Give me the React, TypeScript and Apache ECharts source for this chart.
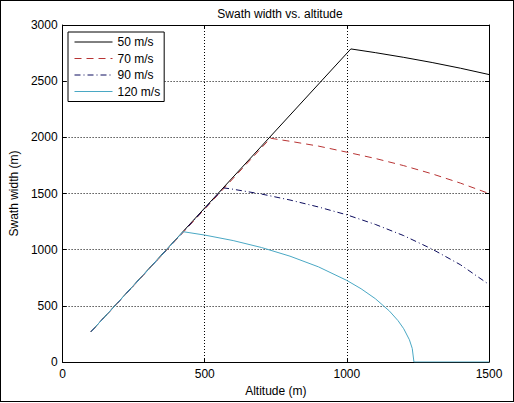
import { useEffect, useRef } from 'react';
import * as echarts from 'echarts';

const seriesNames = ['50 m/s', '70 m/s', '90 m/s', '120 m/s'];

const speed50: [number, number][] = [
  [100, 270], [1014, 2787], [1100, 2754], [1200, 2712], [1300, 2666], [1400, 2615], [1500, 2559],
];
const speed70: [number, number][] = [
  [100, 270], [731, 1992], [800, 1965], [900, 1922], [1000, 1868], [1100, 1812], [1200, 1748],
  [1300, 1675], [1400, 1592], [1500, 1500],
];
const speed90: [number, number][] = [
  [100, 270], [567, 1550], [600, 1538], [700, 1495], [800, 1442], [900, 1380], [1000, 1310],
  [1100, 1225], [1200, 1125], [1300, 1005], [1400, 865], [1500, 690],
];
const speed120: [number, number][] = [
  [100, 270], [424, 1160], [500, 1130], [600, 1081], [700, 1019], [800, 942], [900, 847],
  [1000, 726], [1050, 652], [1100, 564], [1150, 453], [1180, 368], [1200, 296], [1220, 198],
  [1230, 121], [1236, 0], [1500, 0],
];

const font = 'Liberation Sans, Arial, sans-serif';
const fs = 12;

export default function App() {
  const chartRef = useRef<HTMLDivElement>(null);

  useEffect(() => {
    if (!chartRef.current) return;
    const chart = echarts.init(chartRef.current, undefined, { renderer: 'svg' });

    const gridLine = { show: true, lineStyle: { color: '#000', type: [1, 2] as number[], width: 1 } };
    const axisBase = {
      type: 'value' as const,
      axisLine: { show: true, onZero: false, lineStyle: { color: '#000', width: 1 } },
      axisTick: { show: true, inside: true, length: 4, lineStyle: { color: '#000' } },
    };
    const label = { fontSize: fs, color: '#000', fontFamily: font, formatter: (v: number) => String(v) };

    chart.setOption({
      animation: false,
      backgroundColor: '#fff',
      textStyle: { fontFamily: font },
      title: {
        text: 'Swath width vs. altitude',
        left: 275,
        top: 3,
        textAlign: 'center',
        textStyle: { fontSize: fs, fontWeight: 'normal', color: '#000', fontFamily: font },
      },
      grid: { left: 62, right: 25, top: 25, bottom: 41 },
      legend: {
        data: seriesNames,
        orient: 'vertical',
        left: 68,
        top: 32,
        itemWidth: 38,
        itemHeight: 10,
        itemGap: 4.5,
        padding: [4, 4, 4, 6],
        borderColor: '#000',
        borderWidth: 1,
        borderRadius: 0,
        backgroundColor: '#fff',
        itemStyle: { opacity: 0 },
        lineStyle: { width: 1, inactiveWidth: 1 },
        textStyle: { fontSize: fs, color: '#000', fontFamily: font },
      },
      xAxis: [
        {
          ...axisBase,
          min: 0,
          max: 1500,
          interval: 500,
          name: 'Altitude (m)',
          nameLocation: 'middle',
          nameGap: 22,
          nameTextStyle: { fontSize: fs, color: '#000', fontFamily: font },
          axisLabel: { ...label, margin: 6 },
          splitLine: gridLine,
        },
        {
          ...axisBase,
          position: 'top',
          min: 0,
          max: 1500,
          interval: 500,
          axisLabel: { show: false },
          splitLine: { show: false },
        },
      ],
      yAxis: [
        {
          ...axisBase,
          min: 0,
          max: 3000,
          interval: 500,
          name: 'Swath width (m)',
          nameLocation: 'middle',
          nameGap: 39,
          nameTextStyle: { fontSize: fs, color: '#000', fontFamily: font },
          axisLabel: { ...label, margin: 5 },
          splitLine: gridLine,
        },
        {
          ...axisBase,
          position: 'right',
          min: 0,
          max: 3000,
          interval: 500,
          axisLabel: { show: false },
          splitLine: { show: false },
        },
      ],
      series: [
        { name: seriesNames[0], data: speed50, color: '#000', lineStyle: { color: '#000', width: 1 } },
        { name: seriesNames[1], data: speed70, color: '#b83434', lineStyle: { color: '#b83434', width: 1, type: [7, 5] } },
        { name: seriesNames[2], data: speed90, color: '#0c0c5e', lineStyle: { color: '#0c0c5e', width: 1, type: [6, 3, 1, 3] } },
        { name: seriesNames[3], data: speed120, color: '#4aa8c4', lineStyle: { color: '#4aa8c4', width: 1 } },
      ].map((s) => ({ ...s, type: 'line', showSymbol: false, symbol: 'none', smooth: false })),
    });

    return () => chart.dispose();
  }, []);

  return (
    <div
      style={{
        position: 'fixed',
        left: 0,
        top: 0,
        width: 514,
        height: 403,
        background: '#fff',
      }}
    >
      <div ref={chartRef} style={{ width: 514, height: 403 }} />
      <div
        style={{
          position: 'absolute',
          left: 0,
          top: 0,
          width: 512,
          height: 400,
          border: '1px solid #000',
          pointerEvents: 'none',
        }}
      />
    </div>
  );
}
